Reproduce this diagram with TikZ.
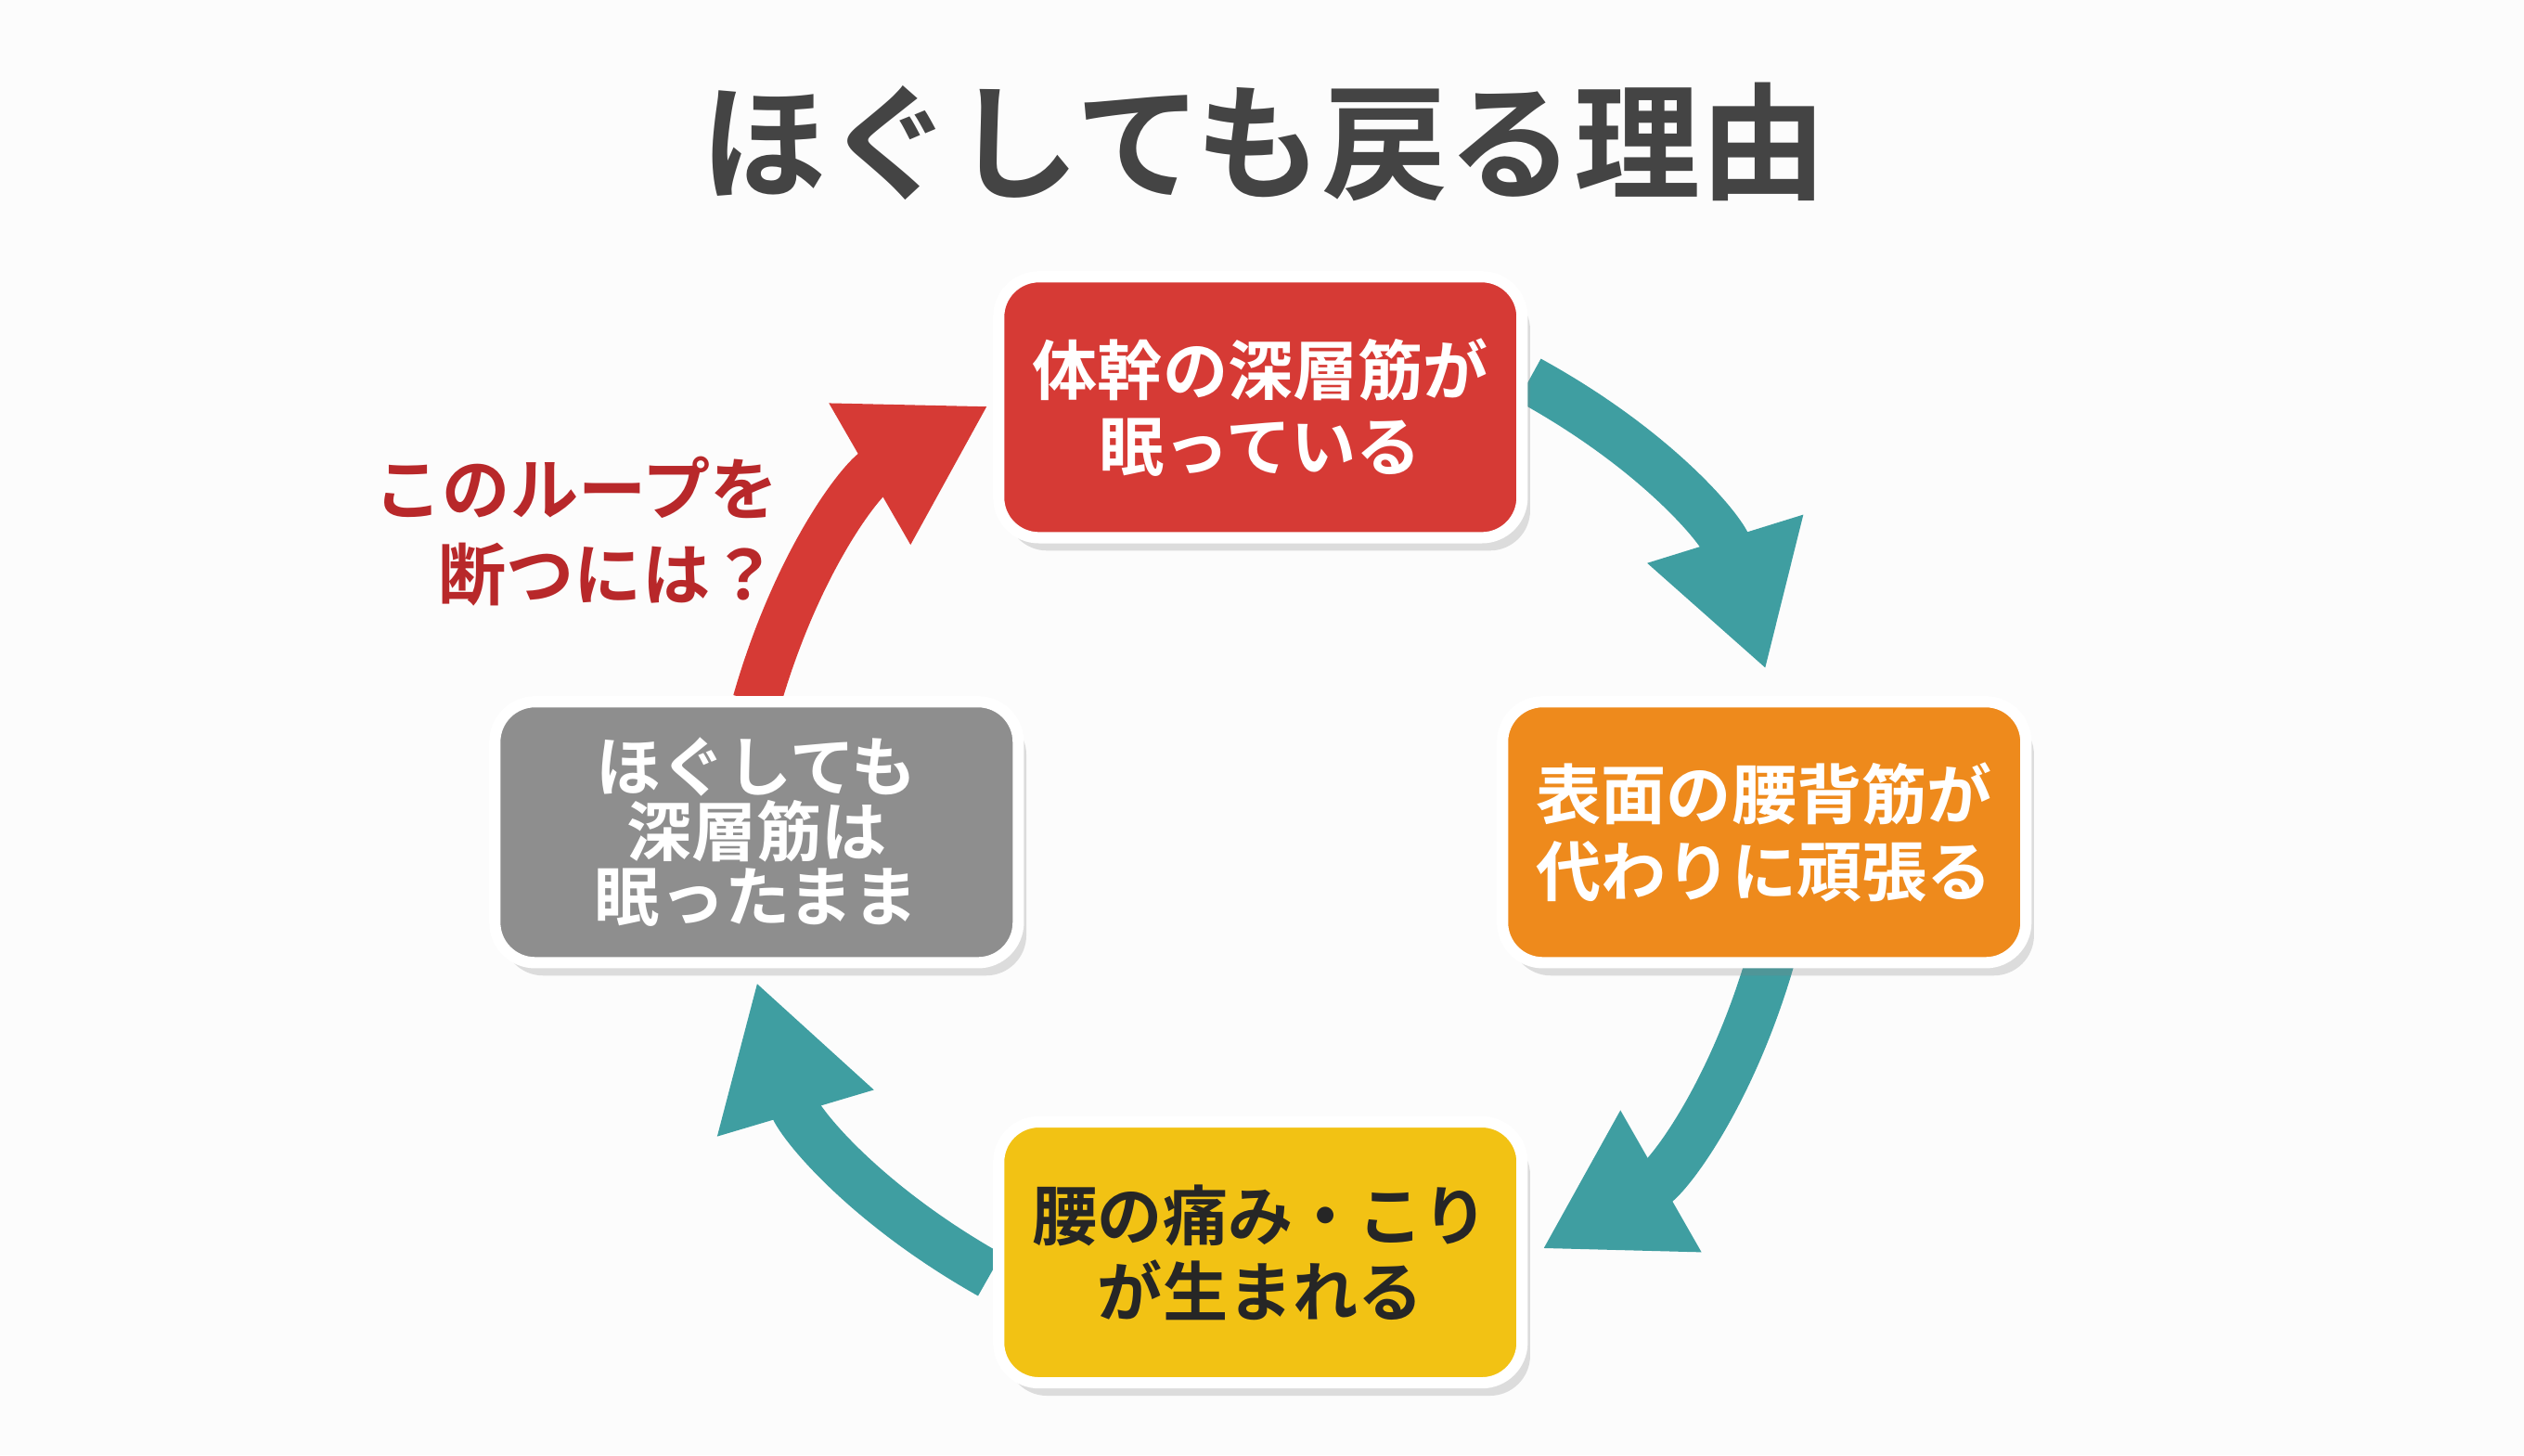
\documentclass[tikz,border=0pt]{standalone}
\usepackage{fontspec}
\newfontfamily\jpfont{Noto Sans CJK JP Bold}
\usetikzlibrary{arrows.meta,shadows}
\definecolor{loopred}{HTML}{D63A35}
\definecolor{looporange}{HTML}{EE8A1C}
\definecolor{loopyellow}{HTML}{F2C214}
\definecolor{loopgray}{HTML}{8E8E8E}
\definecolor{loopteal}{HTML}{3F9EA1}
\definecolor{labelred}{HTML}{B8282A}
\definecolor{titlegray}{HTML}{444444}

\begin{document}
\begin{tikzpicture}[x=0.01cm,y=0.01cm,
  stage/.style={rectangle,rounded corners=0.25cm,draw=white,line width=0.7mm,
    font=\jpfont\fontsize{11.5}{13.5}\selectfont,align=center,
    minimum width=3.25cm,minimum height=1.62cm,
    drop shadow={opacity=0.25,shadow xshift=0.5mm,shadow yshift=-0.8mm}},
  cycle/.style={loopteal,line width=0.3cm,
    -{Triangle[length=0.85cm,width=0.95cm]}},
  breakarrow/.style={cycle,loopred}]

  \useasboundingbox[fill=white!98!gray] (0,0) rectangle (1568,904);

  \node[font=\jpfont\fontsize{22.3}{25}\selectfont,text=titlegray] (title) at (785,816) {ほぐしても戻る理由};

  % arrows of the loop
  \coordinate (a1s) at (950,668);
  \coordinate (a1e) at (1097,488);
  \coordinate (a2s) at (1100,308);
  \coordinate (a2e) at (958,128);
  \coordinate (a3s) at (615,112);
  \coordinate (a3e) at (470,294);
  \coordinate (a4s) at (470,468);
  \coordinate (a4e) at (614,652);
  \draw[cycle] (a1s) to[bend left=22] (a1e);
  \draw[cycle] (a2s) to[bend left=22] (a2e);
  \draw[cycle] (a3s) to[bend left=22] (a3e);
  \draw[breakarrow] (a4s) to[bend left=22] (a4e);

  \node[stage,fill=loopred,text=white] (deep) at (783,651) {体幹の深層筋が\\眠っている};
  \node[stage,fill=looporange,text=white] (surface) at (1096,387) {表面の腰背筋が\\代わりに頑張る};
  \node[stage,fill=loopyellow,text=black!85] (pain) at (783,126) {腰の痛み・こり\\が生まれる};
  \node[stage,fill=loopgray,text=white,font=\jpfont\fontsize{11.5}{11.5}\selectfont] (still) at (470,387) {ほぐしても\\深層筋は\\眠ったまま};

  \node[font=\jpfont\fontsize{12}{15}\selectfont,text=labelred,align=right] (cut) at (358,574) {このループを\\断つには？};
\end{tikzpicture}
\end{document}
